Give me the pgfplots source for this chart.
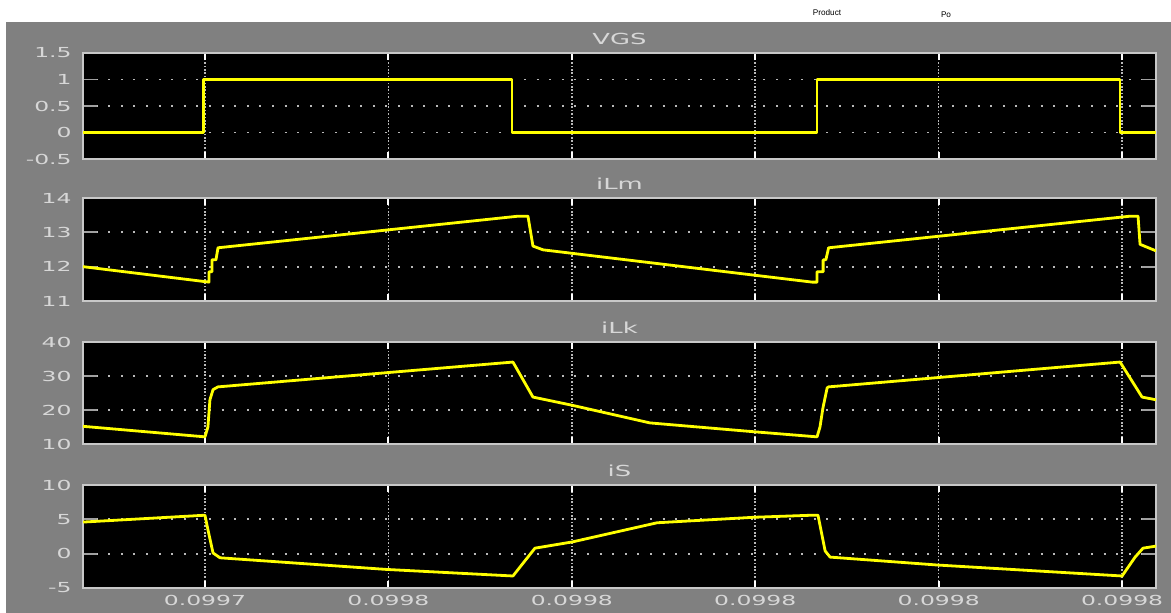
\documentclass[border=0pt]{standalone}
\usepackage{graphicx}
\usepackage{fontspec}
\setmainfont{DejaVu Sans}
\newfontfamily\labfont{Liberation Sans}
\usepackage{pgfplots}
\pgfplotsset{compat=1.18}
\definecolor{bggray}{RGB}{128,128,128}
\definecolor{framegray}{RGB}{200,200,200}
\definecolor{labgray}{RGB}{215,215,215}
\definecolor{gridgray}{RGB}{185,185,185}
\definecolor{ytickgray}{RGB}{160,160,160}
\definecolor{sigyellow}{RGB}{255,255,0}
\newcommand{\wide}[1]{\scalebox{1.7}[1]{#1}}
\tikzset{sig/.style={sigyellow, line width=1.4pt, line join=round, mark=none}}
\pgfplotsset{scopeaxis/.style={
  scale only axis, width=536.5pt, anchor=north west,
  xmin=-0.665, xmax=5.185,
  axis background/.style={fill=black},
  axis line style={framegray, line width=0.9pt},
  xtick={0,1,2,3,4,5},
  xticklabels={},
  grid=major,
  major x grid style={gridgray, line width=0.8pt, dash pattern=on 0.8pt off 0.9pt},
  major y grid style={gridgray, line width=0.9pt, dash pattern=on 1pt off 5.3pt},
  tick align=inside,
  xtick style={white, line width=0.9pt, /pgfplots/major tick length=3.5pt},
  ytick style={ytickgray, line width=0.9pt, /pgfplots/major tick length=7pt},
  ticklabel style={font=\fontsize{6.9}{7}\selectfont, text=labgray, inner sep=0pt},
  yticklabel style={xshift=-5.5pt},
  xticklabel style={yshift=-3.5pt},
  every axis title shift=0pt,
  title style={at={(0.5,1)}, anchor=south, yshift=4pt, inner sep=0pt, font=\fontsize{7.6}{8}\selectfont, text=labgray},
}}
\begin{document}
\begin{tikzpicture}
\fill[white] (0,0) rectangle (585.5pt,-306.5pt);
\fill[bggray] (3pt,-11pt) rectangle (585.5pt,-306.5pt);
\node[font=\labfont\fontsize{4.1}{5}\selectfont, inner sep=0pt] at (413.5pt,-6.5pt) {Product};
\node[font=\labfont\fontsize{4.1}{5}\selectfont, inner sep=0pt] at (473pt,-7.5pt) {Po};
% VGS
\begin{axis}[scopeaxis, at={(41.5pt,-26.5pt)}, height=53pt,
  ymin=-0.5, ymax=1.5, ytick={-0.5,0,0.5,1,1.5},
  yticklabels={\wide{-0.5},\wide{0},\wide{0.5},\wide{1},\wide{1.5}},
  title={\wide{VGS}}]
\addplot[sig] coordinates {(-0.665,0) (-0.01,0) (-0.01,1) (1.674,1) (1.674,0) (3.337,0) (3.337,1) (4.989,1) (4.989,0) (5.185,0)};
\end{axis}
% iLm
\begin{axis}[scopeaxis, at={(41.5pt,-99pt)}, height=51.5pt,
  ymin=11, ymax=14, ytick={11,12,13,14},
  yticklabels={\wide{11},\wide{12},\wide{13},\wide{14}},
  title={\wide{iLm}}]
\addplot[sig] coordinates {(-0.665,12.0) (0.022,11.55) (0.022,11.85) (0.038,11.85) (0.038,12.2) (0.06,12.2) (0.071,12.55) (1.707,13.47) (1.761,13.47) (1.788,12.6) (1.843,12.49) (3.310,11.55) (3.337,11.55) (3.337,11.85) (3.37,11.85) (3.37,12.2) (3.385,12.2) (3.40,12.55) (5.044,13.47) (5.087,13.47) (5.098,12.65) (5.185,12.46)};
\end{axis}
% iLk
\begin{axis}[scopeaxis, at={(41.5pt,-171pt)}, height=51pt,
  ymin=10, ymax=40, ytick={10,20,30,40},
  yticklabels={\wide{10},\wide{20},\wide{30},\wide{40}},
  title={\wide{iLk}}]
\addplot[sig] coordinates {(-0.665,15.2) (0,12.1) (0.016,15) (0.027,23) (0.044,26) (0.071,26.8) (1.679,34.1) (1.788,23.8) (2.001,21.4) (2.426,16.2) (2.993,13.6) (3.337,12.1) (3.353,15) (3.369,20.6) (3.392,26.5) (3.40,26.8) (4.989,34.1) (5.109,23.8) (5.185,23.0)};
\end{axis}
% iS
\begin{axis}[scopeaxis, at={(41.5pt,-242.5pt)}, height=51.5pt,
  ymin=-5, ymax=10, ytick={-5,0,5,10},
  yticklabels={\wide{-5},\wide{0},\wide{5},\wide{10}},
  xticklabels={\wide{0.0997},\wide{0.0998},\wide{0.0998},\wide{0.0998},\wide{0.0998},\wide{0.0998}},
  title={\wide{iS}}]
\addplot[sig] coordinates {(-0.665,4.6) (0,5.6) (0.016,3.5) (0.044,0.1) (0.082,-0.6) (0.992,-2.3) (1.679,-3.25) (1.799,0.8) (2.001,1.7) (2.465,4.5) (2.993,5.3) (3.31,5.6) (3.342,5.6) (3.381,0.4) (3.408,-0.5) (3.991,-1.65) (5.0,-3.25) (5.071,-0.5) (5.114,0.8) (5.185,1.1)};
\end{axis}
\end{tikzpicture}
\end{document}
